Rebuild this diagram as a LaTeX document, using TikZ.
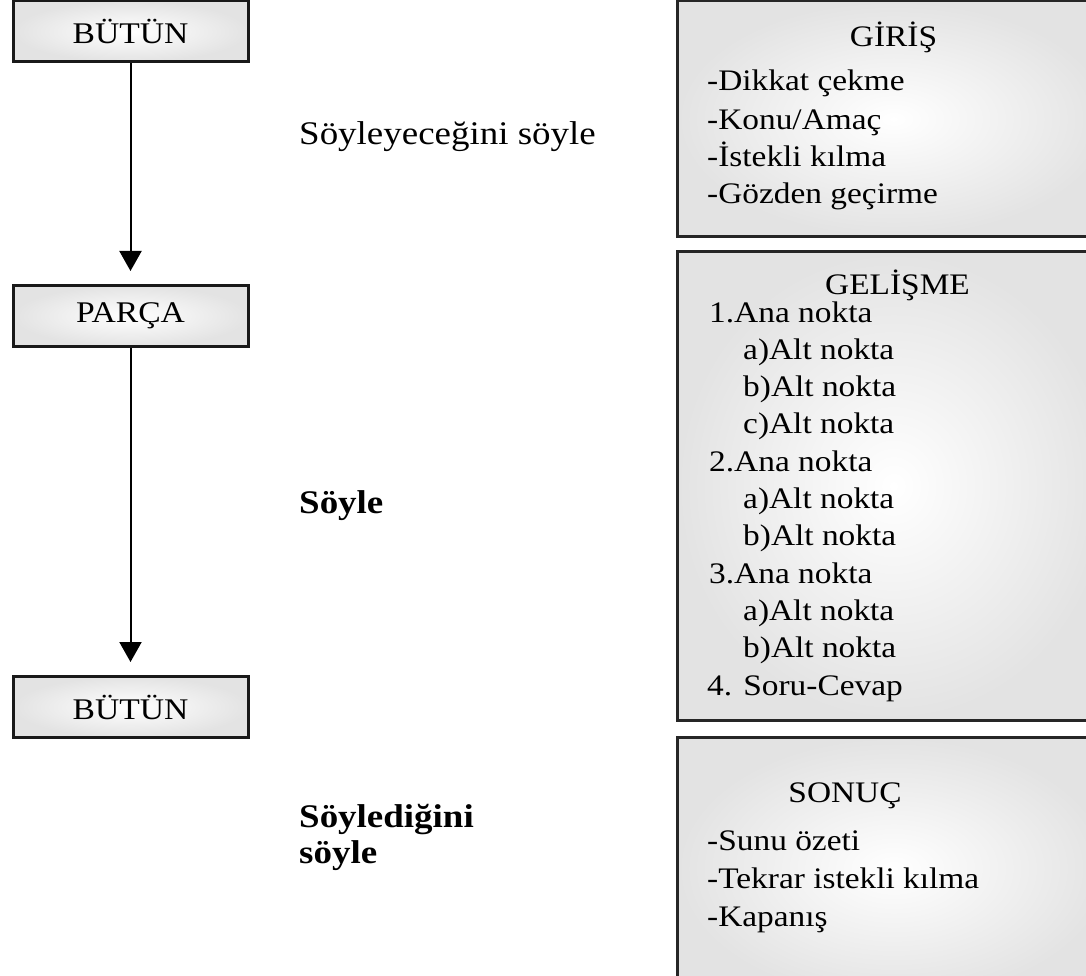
\documentclass[tikz,border=0pt]{standalone}
\usepackage{fontspec}
\setmainfont{Liberation Serif}
\newfontfamily\rfont[FakeStretch=1.12]{Liberation Serif}
\newfontfamily\lfont[FakeStretch=1.12]{Liberation Serif}
\usetikzlibrary{arrows.meta}
\tikzset{
  lbox/.style={draw=black!90, line width=3pt, minimum width=235pt, minimum height=61pt,
    inner sep=0pt, shading=radial, inner color=white, outer color=gray!22,
    font=\lfont\fontsize{30}{30}\selectfont},
  rbox/.style={draw=black!85, line width=3pt, inner sep=0pt,
    shading=radial, inner color=white, outer color=gray!22},
  flow/.style={line width=2pt, -{Triangle[width=22pt,length=20pt]}, shorten >=13pt},
  side/.style={anchor=base west, inner sep=0pt, font=\lfont\fontsize{33}{33}\selectfont},
  sideb/.style={side, font=\lfont\fontsize{33}{33}\selectfont\bfseries},
  item/.style={anchor=base west, inner sep=0pt, font=\rfont\fontsize{29.8}{29.8}\selectfont},
  head/.style={anchor=base, inner sep=0pt, font=\rfont\fontsize{29.8}{29.8}\selectfont}
}
\begin{document}
\begin{tikzpicture}[x=1pt,y=-1pt]
\useasboundingbox (0,0) rectangle (1086,976);
\clip (0,0) rectangle (1086,976);
% left column
\node[lbox] (b1) at (130.5,31.5) {BÜTÜN};
\node[lbox] (p) at (130.5,316) {PARÇA};
\node[lbox] (b2) at (130.5,707) {BÜTÜN};
\draw[flow] (b1.south) -- (p.north);
\draw[flow] (p.south) -- (b2.north);
% middle labels
\node[side] (l1) at (299,145) {Söyleyeceğini söyle};
\node[sideb] (l2) at (299,513) {Söyle};
\node[sideb] (l3) at (299,827) {Söylediğini};
\node[sideb] (l4) at (299,863) {söyle};
% right boxes
\path[rbox] (677,1) rectangle (1110,237);
\path[rbox] (677,252) rectangle (1110,720);
\path[rbox] (677,737) rectangle (1110,1000);
% GİRİŞ
\node[head] (g0) at (893.5,47) {GİRİŞ};
\node[item] (g1) at (707,91) {-Dikkat çekme};
\node[item] (g2) at (707,129.5) {-Konu/Amaç};
\node[item] (g3) at (707,166.5) {-İstekli kılma};
\node[item] (g4) at (707,203.5) {-Gözden geçirme};
% GELİŞME
\node[head] (d0) at (897.5,294) {GELİŞME};
\node[item] (d1) at (709,322) {1.Ana nokta};
\node[item] (d2) at (743,359.3) {a)Alt nokta};
\node[item] (d3) at (743,396.6) {b)Alt nokta};
\node[item] (d4) at (743,433.9) {c)Alt nokta};
\node[item] (d5) at (709,471.2) {2.Ana nokta};
\node[item] (d6) at (743,508.5) {a)Alt nokta};
\node[item] (d7) at (743,545.8) {b)Alt nokta};
\node[item] (d8) at (709,583.1) {3.Ana nokta};
\node[item] (d9) at (743,620.4) {a)Alt nokta};
\node[item] (d10) at (743,657.7) {b)Alt nokta};
\node[item] (d11) at (707,695) {4. Soru-Cevap};
% SONUÇ
\node[head] (s0) at (845,802.5) {SONUÇ};
\node[item] (s1) at (707,850) {-Sunu özeti};
\node[item] (s2) at (707,888) {-Tekrar istekli kılma};
\node[item] (s3) at (707,926) {-Kapanış};
\end{tikzpicture}
\end{document}
